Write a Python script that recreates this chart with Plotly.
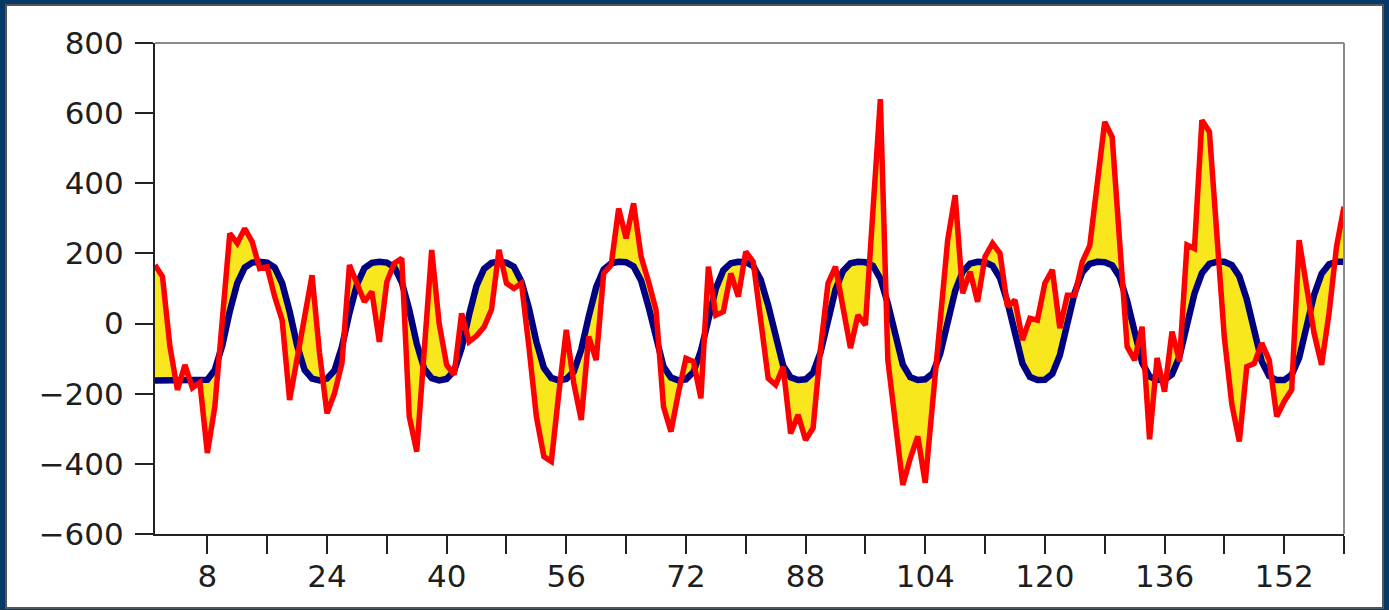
import plotly.graph_objects as go

# ---------------- data ----------------
x_index = list(range(1, 161))

seasonal = [
    -162, -162, -162, -162, -162, -162, -162, -160, -132, -62,
    35, 115, 160, 174, 176, 174, 160, 115, 35, -62,
    -132, -157, -162, -157, -134, -66, 30, 111, 158, 173,
    176, 174, 161, 118, 39, -57, -129, -156, -162, -158,
    -135, -70, 25, 108, 156, 173, 176, 174, 162, 120,
    44, -52, -126, -155, -162, -158, -137, -74, 20, 104,
    154, 172, 176, 175, 163, 123, 48, -48, -123, -154,
    -162, -159, -138, -78, 15, 100, 152, 172, 176, 175,
    164, 125, 52, -43, -120, -153, -161, -159, -140, -82,
    11, 97, 150, 172, 176, 175, 165, 128, 57, -38,
    -117, -153, -161, -159, -142, -86, 6, 93, 148, 171,
    176, 175, 165, 130, 61, -33, -114, -152, -161, -160,
    -143, -90, 1, 89, 146, 170, 176, 175, 166, 133,
    65, -28, -111, -151, -161, -160, -145, -94, -4, 85,
    144, 170, 176, 176, 167, 135, 69, -24, -108, -150,
    -161, -161, -146, -98, -9, 82, 142, 169, 176, 176,
]

observed = [
    167, 134, -66, -189, -118, -183, -168, -369, -237, 20,
    257, 229, 271, 233, 157, 162, 77, 10, -218, -100,
    20, 138, -84, -256, -199, -113, 167, 115, 62, 91,
    -52, 119, 172, 186, -265, -365, -55, 210, 0, -118,
    -146, 29, -52, -35, -10, 40, 210, 115, 100, 115,
    -66, -265, -379, -393, -199, -18, -170, -275, -37, -104,
    143, 167, 328, 243, 343, 191, 119, 39, -237, -308,
    -197, -99, -108, -213, 162, 24, 34, 143, 77, 205,
    176, -6, -156, -175, -123, -313, -260, -332, -298, -72,
    115, 162, 47, -70, 24, -4, 320, 640, -104, -285,
    -460, -384, -322, -454, -224, 7, 238, 366, 86, 148,
    62, 191, 229, 200, 48, 67, -47, 15, 10, 115,
    153, -13, 81, 81, 176, 222, 397, 575, 532, 240,
    -66, -104, -9, -330, -98, -194, -23, -108, 224, 214,
    580, 547, 270, -40, -230, -336, -123, -114, -56, -104,
    -265, -222, -189, 238, 105, -28, -118, 29, 219, 333,
]

x_tick_values = list(range(8, 161, 8))
x_tick_labels = ["8", "", "24", "", "40", "", "56", "", "72", "", "88", "",
                 "104", "", "120", "", "136", "", "152", ""]
y_tick_values = [-600, -400, -200, 0, 200, 400, 600, 800]

# ---------------- figure ----------------
W, H = 1389, 610
L, R, T, B = 155, 45, 43, 76
pw, ph = W - L - R, H - T - B

def px_x(p):
    return (p - L) / pw

def px_y(p):
    return (H - B - p) / ph

fig = go.Figure()

# yellow fill between the two curves
fig.add_trace(go.Scatter(x=x_index, y=seasonal, mode="lines",
                         line=dict(width=0, color="rgba(0,0,0,0)"),
                         showlegend=False, hoverinfo="skip"))
fig.add_trace(go.Scatter(x=x_index, y=observed, mode="lines", fill="tonexty",
                         fillcolor="#F8E71C",
                         line=dict(width=0, color="rgba(0,0,0,0)"),
                         showlegend=False, hoverinfo="skip"))
# navy smooth curve
fig.add_trace(go.Scatter(x=x_index, y=seasonal, mode="lines",
                         line=dict(color="#000080", width=6.5),
                         showlegend=False))
# red data
fig.add_trace(go.Scatter(x=x_index, y=observed, mode="lines",
                         line=dict(color="#FF0000", width=5.5),
                         showlegend=False))

font = dict(family="DejaVu Sans", size=31, color="#1e1e1e")

fig.update_layout(
    width=W, height=H, autosize=False,
    margin=dict(l=L, r=R, t=T, b=B, pad=0),
    paper_bgcolor="#063868",
    plot_bgcolor="white",
    font=font,
    showlegend=False,
    xaxis=dict(range=[1, 160], tickmode="array", tickvals=x_tick_values,
               ticktext=x_tick_labels, ticks="outside", ticklen=18,
               tickwidth=2, tickcolor="#222222", showgrid=False,
               zeroline=False, showline=True, linecolor="#222222",
               linewidth=2, tickfont=font, ticklabelstandoff=-4),
    yaxis=dict(range=[-600, 800], tickmode="array", tickvals=y_tick_values,
               ticks="outside", ticklen=18, tickwidth=2,
               tickcolor="#222222", showgrid=False, zeroline=False,
               showline=True, linecolor="#222222", linewidth=2,
               tickfont=font, ticklabelstandoff=5),
    shapes=[
        # white panel inside the navy border
        dict(type="rect", xref="paper", yref="paper", layer="below",
             x0=px_x(6), x1=px_x(1383), y0=px_y(608), y1=px_y(5),
             fillcolor="white", line=dict(color="#555555", width=2)),
        # top and right frame lines
        dict(type="line", xref="paper", yref="paper", x0=0, x1=1, y0=1, y1=1,
             line=dict(color="#8a8a8a", width=2)),
        dict(type="line", xref="paper", yref="paper", x0=1, x1=1, y0=0, y1=1,
             line=dict(color="#8a8a8a", width=2)),
    ],
)

fig.write_html("out.html")
